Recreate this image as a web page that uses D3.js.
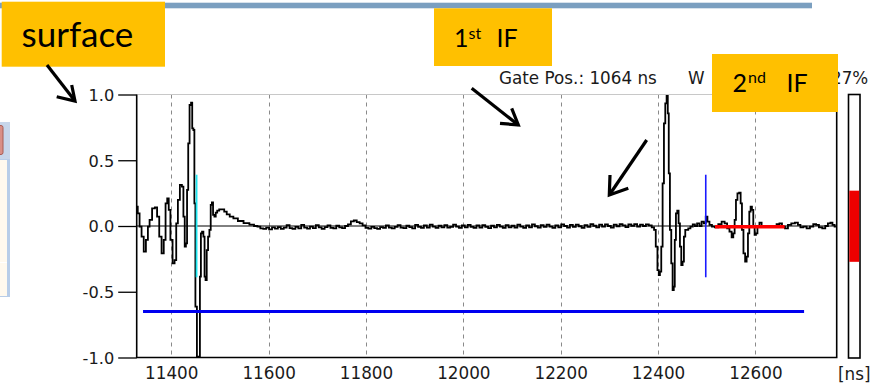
<!DOCTYPE html>
<html>
<head>
<meta charset="utf-8">
<script src="https://cdn.jsdelivr.net/npm/d3@7"></script>
<style>
  body { margin: 0; background: #fff; }
  svg { display: block; }
</style>
</head>
<body>
<svg id="chart" width="870" height="390"></svg>
<script>
// ---- A-scan data (time in ns, normalised amplitude) ----
const xTicks = [11400, 11600, 11800, 12000, 12200, 12400, 12600];
const yTicks = [-1.0, -0.5, 0.0, 0.5, 1.0];
const timeRange = [11329, 12767];

// surface echo
const surfaceEcho = [
  [11329.1, 0.147], [11333.2, 0.096], [11336.6, -0.005], [11341.4, -0.081], [11345.5, -0.195],
  [11350.3, -0.106], [11353.7, -0.005], [11357.2, 0.046], [11364.0, 0.134], [11368.8, 0.142],
  [11372.9, 0.071], [11377.7, -0.081], [11382.5, -0.208], [11386.6, -0.106], [11390.0, 0.172],
  [11393.4, 0.210], [11396.2, 0.122], [11400.3, -0.106], [11405.1, -0.284], [11408.5, -0.259],
  [11411.9, 0.020], [11415.3, 0.198], [11420.1, 0.312], [11423.6, 0.299], [11426.3, 0.071],
  [11429.0, -0.157], [11431.1, -0.132], [11433.8, 0.274], [11435.9, 0.629], [11439.3, 0.920],
  [11442.0, 0.938], [11444.1, 0.743], [11446.8, 0.730], [11448.2, 0.172], [11451.0, -0.613],
  [11454.4, -0.994], [11457.8, -0.994], [11459.9, -0.385], [11461.9, -0.056], [11464.6, -0.043],
  [11467.4, -0.081], [11469.4, -0.385], [11471.5, -0.411], [11474.2, -0.183], [11477.0, -0.081],
  [11479.7, -0.030], [11482.4, 0.160], [11484.5, 0.180], [11487.2, 0.084], [11490.0, 0.071],
  [11492.7, 0.101], [11496.1, 0.117], [11500.9, 0.127], [11506.4, 0.127], [11511.2, 0.109],
  [11516.7, 0.089], [11523.5, 0.071], [11531.7, 0.058], [11542.0, 0.038], [11555.0, 0.022],
  [11566.0, 0.010], [11574.0, 0.000]
];

// baseline noise between the echoes
const baselineNoise = [
  [11580, -0.005], [11586, -0.018], [11592, -0.022], [11598, -0.012], [11604, -0.025],
  [11610, -0.010], [11616, -0.020], [11622, -0.008], [11628, -0.022], [11634, -0.012],
  [11640, 0.006], [11646, -0.016], [11652, -0.022], [11658, -0.006], [11664, -0.018],
  [11670, 0.008], [11676, -0.012], [11682, -0.020], [11688, -0.004], [11694, -0.016],
  [11700, 0.006], [11706, -0.010], [11712, -0.022], [11718, -0.008], [11724, 0.004],
  [11730, -0.014], [11736, -0.018], [11742, 0.002], [11748, -0.010], [11754, -0.016],
  [11760, 0.000], [11766, 0.012], [11772, 0.035], [11778, 0.042], [11784, 0.030],
  [11790, 0.020], [11796, 0.004], [11802, -0.014], [11808, -0.020], [11814, -0.006],
  [11820, -0.016], [11826, -0.022], [11832, -0.008], [11838, -0.014], [11844, 0.004],
  [11850, -0.012], [11856, -0.018], [11862, -0.006], [11868, 0.006], [11874, -0.012],
  [11880, -0.016], [11886, 0.002], [11892, -0.008], [11898, -0.018], [11904, 0.008],
  [11910, -0.006], [11916, -0.014], [11922, 0.004], [11928, -0.012], [11934, 0.010],
  [11940, -0.004], [11946, -0.014], [11952, 0.002], [11958, -0.010], [11964, 0.006],
  [11970, -0.012], [11976, -0.006], [11982, 0.010], [11988, -0.004], [11994, -0.014],
  [12000, 0.004], [12006, -0.010], [12012, 0.008], [12018, -0.006], [12024, -0.014],
  [12030, 0.004], [12036, -0.012], [12042, 0.006], [12048, -0.006], [12054, -0.016],
  [12060, 0.002], [12066, -0.010], [12072, 0.008], [12078, -0.004], [12084, -0.014],
  [12090, 0.006], [12096, -0.010], [12102, 0.002], [12108, -0.012], [12114, 0.010],
  [12120, -0.004], [12126, -0.014], [12132, 0.004], [12138, -0.010], [12144, 0.012],
  [12150, -0.002], [12156, -0.012], [12162, 0.006], [12168, -0.006], [12174, 0.010],
  [12180, -0.004], [12186, -0.014], [12192, 0.004], [12198, -0.010], [12204, 0.012],
  [12210, 0.000], [12216, -0.012], [12222, 0.008], [12228, -0.006], [12234, 0.010],
  [12240, -0.002], [12246, -0.014], [12252, 0.006], [12258, -0.006], [12264, 0.014],
  [12270, 0.002], [12276, -0.010], [12282, 0.010], [12288, -0.004], [12294, 0.012],
  [12300, 0.000], [12306, -0.012], [12312, 0.010], [12318, -0.002], [12324, 0.014],
  [12330, 0.004], [12336, -0.008], [12342, 0.012], [12348, 0.002], [12354, 0.014],
  [12360, -0.004], [12366, 0.010], [12372, 0.000], [12378, 0.012], [12384, 0.004],
  [12390, -0.010]
];

// first interface echo
const firstInterfaceEcho = [
  [12393.6, -0.030], [12397.0, -0.157], [12400.5, -0.335], [12402.5, -0.373], [12405.2, -0.347],
  [12408.0, -0.157], [12410.7, 0.324], [12413.5, 0.781], [12416.2, 0.933], [12419.0, 0.990],
  [12421.0, 0.857], [12423.0, 0.400], [12425.8, -0.030], [12428.5, -0.284], [12431.3, -0.487],
  [12433.3, -0.461], [12435.4, -0.106], [12438.1, 0.096], [12440.8, 0.117], [12443.6, 0.020],
  [12446.3, -0.157], [12449.1, -0.297], [12451.8, -0.271], [12454.5, -0.081], [12457.3, -0.030],
  [12460.0, -0.030], [12464.1, -0.018], [12468.9, -0.005], [12473.7, 0.013], [12477.8, 0.000],
  [12482.6, 0.020], [12487.4, 0.000], [12491.5, 0.033], [12496.3, 0.020], [12499.7, 0.071]
];

// second interface echo and tail
const secondInterfaceEcho = [
  [12503.2, 0.033], [12508.0, 0.008], [12513.5, -0.005], [12520.3, -0.010], [12527.2, 0.015],
  [12534.0, 0.033], [12539.5, 0.020], [12544.3, -0.018], [12549.1, -0.043], [12553.2, -0.086],
  [12555.9, -0.056], [12558.7, 0.046], [12561.4, 0.198], [12564.8, 0.248], [12568.3, 0.253],
  [12571.0, 0.172], [12573.7, -0.030], [12577.2, -0.208], [12580.6, -0.271], [12583.3, -0.233],
  [12586.1, -0.056], [12588.8, 0.109], [12591.5, 0.147], [12594.3, 0.122], [12597.0, -0.005],
  [12599.7, -0.068], [12602.5, -0.056], [12605.9, -0.005], [12610.7, 0.025], [12614.8, -0.005],
  [12619.6, 0.000], [12626.4, -0.005], [12633.3, 0.000], [12640.1, -0.005], [12647.0, 0.015],
  [12651.8, 0.020], [12657.3, -0.005], [12664.1, -0.018], [12669.6, 0.008], [12677.8, 0.020],
  [12684.6, 0.025], [12690.1, 0.008], [12694.9, -0.010], [12701.7, -0.005], [12708.6, -0.018],
  [12715.4, -0.005], [12722.3, 0.015], [12727.1, 0.008], [12733.9, -0.010], [12740.8, -0.018],
  [12746.2, 0.000], [12751.7, 0.020], [12756.5, 0.025], [12760.0, 0.008], [12765.4, -0.005]
];

// gates and markers
const gateThreshold = -0.65;
const gateSpan = [11342, 12700];
const surfaceMarkerTime = 11452;
const interfaceMarkerTime = 12498;
const markerHalfHeight = 0.39;
const evalGateSpan = [12517, 12660];
const evalGateLevel = -0.005;
const gainPercent = 27;
const gatePositionNs = 1064;

// ---- layout ----
const svg = d3.select("#chart");
const plot = { left: 136.7, right: 836.7, top: 94.5, bottom: 357.5 };
const x = d3.scaleLinear().domain(timeRange).range([plot.left, plot.right]);
const y = d3.scaleLinear().domain([-1, 1]).range([plot.bottom, plot.top]);
const tickFont = "'DejaVu Sans', Verdana, sans-serif";
const noteFont = "Lato, 'Open Sans', sans-serif";

// window fragment at the left edge
const frag = svg.append("g");
frag.append("rect").attr("x", 0).attr("y", 122).attr("width", 10).attr("height", 37).attr("fill", "#c7d6ea");
frag.append("rect").attr("x", -2).attr("y", 125.5).attr("width", 5).attr("height", 29).attr("rx", 2)
  .attr("fill", "#d98f86").attr("stroke", "#a85c55").attr("stroke-width", 1);
frag.append("rect").attr("x", 0).attr("y", 159).attr("width", 10).attr("height", 138).attr("fill", "#b8cde8");
frag.append("rect").attr("x", 0).attr("y", 160).attr("width", 7).attr("height", 136).attr("fill", "#fff9ee");
frag.append("line").attr("x1", 0).attr("x2", 7).attr("y1", 262.5).attr("y2", 262.5).attr("stroke", "#ffffff");

// slide header band
svg.append("rect").attr("x", 0).attr("y", 2.7).attr("width", 812).attr("height", 5.6).attr("fill", "#7b9fc0");

// vertical dashed grid
svg.append("g").selectAll("line").data(xTicks).join("line")
  .attr("x1", d => Math.round(x(d)) + 0.5).attr("x2", d => Math.round(x(d)) + 0.5)
  .attr("y1", plot.top).attr("y2", plot.bottom)
  .attr("stroke", "#8a8a8a").attr("stroke-width", 1).attr("stroke-dasharray", "4,4");

// top border
svg.append("line").attr("x1", plot.left).attr("x2", plot.right).attr("y1", plot.top).attr("y2", plot.top)
  .attr("stroke", "#c8c8c8").attr("stroke-width", 1.2);

// zero line
svg.append("line").attr("x1", plot.left).attr("x2", plot.right).attr("y1", y(0)).attr("y2", y(0))
  .attr("stroke", "#000").attr("stroke-width", 1);

// y axis
const yAxis = d3.axisLeft(y).tickValues(yTicks).tickSize(18.5).tickPadding(4)
  .tickFormat(d => d.toFixed(1));
const yg = svg.append("g").attr("transform", `translate(${plot.left},0)`).call(yAxis);
yg.select(".domain").remove();
yg.selectAll(".tick line").attr("stroke", "#000").attr("stroke-width", 1.3);
yg.selectAll(".tick text").attr("font-family", tickFont).attr("font-size", 16.2)
  .attr("fill", "#1a1a1a").attr("dy", "0.36em");

// x axis labels
const xAxis = d3.axisBottom(x).tickValues(xTicks).tickSize(0).tickPadding(10).tickFormat(d3.format("d"));
const xg = svg.append("g").attr("transform", `translate(0,${plot.bottom})`).call(xAxis);
xg.select(".domain").remove();
xg.selectAll(".tick text").attr("font-family", tickFont).attr("font-size", 16.8).attr("fill", "#1a1a1a");

svg.append("text").attr("x", 838).attr("y", 380).attr("font-family", tickFont).attr("font-size", 16.8)
  .attr("fill", "#1a1a1a").text("[ns]");

// frame: left, bottom, right
svg.append("path")
  .attr("d", `M${plot.left},${plot.top} V${plot.bottom} H${plot.right} V${plot.top}`)
  .attr("fill", "none").attr("stroke", "#000").attr("stroke-width", 1.6);

// A-scan trace, drawn sample-and-hold like the instrument display
const trace = surfaceEcho.concat(baselineNoise, firstInterfaceEcho, secondInterfaceEcho);
const line = d3.line().x(d => x(d[0])).y(d => y(d[1])).curve(d3.curveStep);
svg.append("path").datum(trace).attr("d", line)
  .attr("fill", "none").attr("stroke", "#000").attr("stroke-width", 1.8).attr("stroke-linejoin", "miter");

// threshold gate
svg.append("line").attr("x1", x(gateSpan[0])).attr("x2", x(gateSpan[1]))
  .attr("y1", y(gateThreshold)).attr("y2", y(gateThreshold))
  .attr("stroke", "#0000f0").attr("stroke-width", 3);

// surface / interface markers
svg.append("line").attr("x1", x(surfaceMarkerTime)).attr("x2", x(surfaceMarkerTime))
  .attr("y1", y(markerHalfHeight)).attr("y2", y(-markerHalfHeight))
  .attr("stroke", "#1ee6f0").attr("stroke-width", 1.8);
svg.append("line").attr("x1", x(interfaceMarkerTime)).attr("x2", x(interfaceMarkerTime))
  .attr("y1", y(markerHalfHeight)).attr("y2", y(-markerHalfHeight))
  .attr("stroke", "#1a1aff").attr("stroke-width", 1.6);

// evaluation gate
svg.append("line").attr("x1", x(evalGateSpan[0])).attr("x2", x(evalGateSpan[1]))
  .attr("y1", y(evalGateLevel)).attr("y2", y(evalGateLevel))
  .attr("stroke", "#ff0000").attr("stroke-width", 3.5);

// gain bar
const bar = { x: 848.5, w: 11.5, top: 94.5, bottom: 358 };
const barScale = d3.scaleLinear().domain([0, 100]).range([0, bar.bottom - bar.top]);
const barMid = (bar.top + bar.bottom) / 2;
svg.append("rect").attr("x", bar.x).attr("y", bar.top).attr("width", bar.w).attr("height", bar.bottom - bar.top)
  .attr("fill", "#fff").attr("stroke", "#000").attr("stroke-width", 1.6);
svg.append("rect").attr("x", bar.x + 0.8).attr("y", barMid - barScale(gainPercent) / 2)
  .attr("width", bar.w - 1.6).attr("height", barScale(gainPercent)).attr("fill", "#ee0000");

// status text
svg.append("text").attr("x", 499).attr("y", 83.5).attr("font-family", tickFont).attr("font-size", 16.8)
  .attr("fill", "#1a1a1a").text(`Gate Pos.: ${gatePositionNs} ns`);
svg.append("text").attr("x", 688).attr("y", 83.5).attr("font-family", tickFont).attr("font-size", 16.8)
  .attr("fill", "#1a1a1a").text("W");
svg.append("text").attr("x", 831).attr("y", 83.5).attr("font-family", tickFont).attr("font-size", 16.8)
  .attr("fill", "#1a1a1a").text(`${gainPercent}%`);

// callout boxes
const gold = "#ffc000";
svg.append("rect").attr("x", 1.7).attr("y", 1.7).attr("width", 163.3).attr("height", 65).attr("fill", gold);
svg.append("text").attr("x", 21.5).attr("y", 46.7).attr("font-family", noteFont).attr("font-size", 35)
  .attr("fill", "#000").text("surface");

svg.append("rect").attr("x", 434).attr("y", 8.3).attr("width", 118).attr("height", 57.7).attr("fill", gold);
svg.append("text").attr("x", 454).attr("y", 46.7).attr("font-family", noteFont).attr("font-size", 25).text("1");
svg.append("text").attr("x", 468.5).attr("y", 38.5).attr("font-family", noteFont).attr("font-size", 16).text("st");
svg.append("text").attr("x", 496.5).attr("y", 46.7).attr("font-family", noteFont).attr("font-size", 25).text("IF");

svg.append("rect").attr("x", 712).attr("y", 54).attr("width", 126).attr("height", 58).attr("fill", gold);
svg.append("text").attr("x", 732.5).attr("y", 91.7).attr("font-family", noteFont).attr("font-size", 25).text("2");
svg.append("text").attr("x", 748).attr("y", 83).attr("font-family", noteFont).attr("font-size", 16).text("nd");
svg.append("text").attr("x", 786.5).attr("y", 91.7).attr("font-family", noteFont).attr("font-size", 25).text("IF");

// callout arrows
const arrows = [
  { shaft: [[47, 65], [75, 101]], head: [[56.7, 96.7], [75, 101], [71.7, 85]] },
  { shaft: [[471.7, 88.3], [518.3, 125]], head: [[500, 123.3], [518.3, 125], [511.7, 108.3]] },
  { shaft: [[646.7, 140], [609.3, 195]], head: [[610, 175], [609.3, 195], [628.3, 188.3]] }
];
const poly = d3.line();
arrows.forEach(a => {
  svg.append("path").attr("d", poly(a.shaft)).attr("fill", "none").attr("stroke", "#000").attr("stroke-width", 3.2);
  svg.append("path").attr("d", poly(a.head)).attr("fill", "none").attr("stroke", "#000").attr("stroke-width", 3.2)
    .attr("stroke-linejoin", "miter");
});
</script>
</body>
</html>
